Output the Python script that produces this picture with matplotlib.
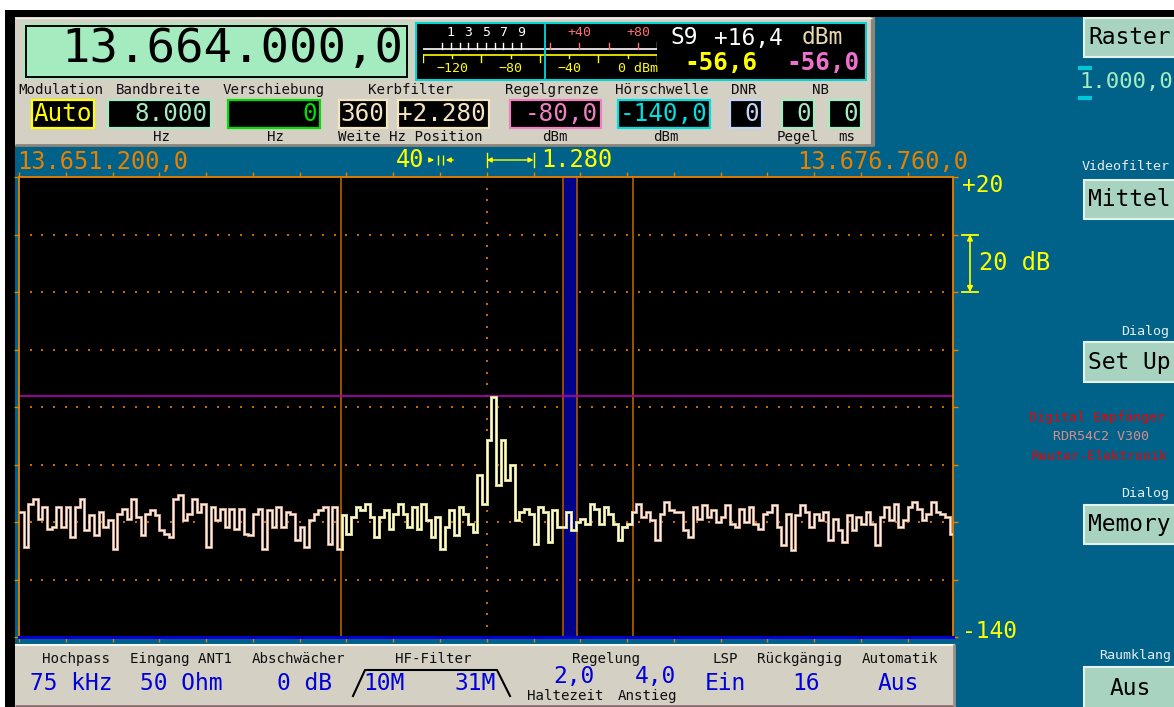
import numpy as np
import matplotlib
matplotlib.use("Agg")
import matplotlib.pyplot as plt
from matplotlib.patches import Rectangle
from matplotlib import transforms

# ---------------- receiver state ----------------
center_freq_hz = 13664000.0
span_start_hz = 13651200.0
span_stop_hz = 13676760.0
division_hz = 1280
resolution_hz = 40
level_top_dbm = 20
level_bottom_dbm = -140
level_div_db = 20

modulation = "Auto"
bandwidth_hz = 8000
shift_hz = 0
notch_width_hz = 360
notch_offset_hz = 2280
agc_limit_dbm = -80.0
squelch_dbm = -140.0
dnr_value = 0
nb_level = 0
nb_ms = 0

signal_dbm = -56.6
s_unit_label = "S9"
over_s9_db = 16.4
marker_dbm = -56.0
tuning_step_hz = 1000.0

highpass_label = "75 kHz"
input_label = "50 Ohm"
attenuator_label = "0 dB"
hf_filter_low = "10M"
hf_filter_high = "31M"
agc_hold_s = 2.0
agc_attack_s = 4.0
speaker_label = "Ein"
undo_count = 16
auto_label = "Aus"

# spectrum trace, one level per 128 Hz bin starting at span_start_hz
trace_bin_hz = 128
trace_dbm = [
    -96.5, -108.7, -93.6, -91.9, -98.8, -94.8, -102.3, -101.7, -94.8, -101.7,
    -94.8, -105.2, -94.8, -91.9, -102.9, -97.7, -104.6, -96.5, -101.7, -99.4,
    -109.3, -97.1, -95.4, -98.8, -91.9, -98.3, -104.6, -97.1, -95.9, -97.7,
    -102.9, -104.1, -105.2, -91.9, -90.7, -99.4, -97.1, -91.9, -96.5, -93.6,
    -108.7, -94.8, -99.4, -95.4, -101.7, -95.4, -102.3, -95.4, -104.1, -104.6,
    -97.1, -95.4, -109.3, -95.9, -101.7, -94.8, -101.7, -96.5, -97.1, -106.4,
    -101.7, -108.7, -99.4, -97.1, -95.9, -94.8, -107.5, -94.8, -109.3, -97.7,
    -104.1, -98.3, -94.8, -95.9, -93.6, -98.3, -105.2, -98.3, -95.9, -102.3,
    -97.1, -93.6, -97.1, -101.7, -94.8, -102.3, -93.6, -99.4, -105.2, -98.3,
    -109.3, -101.7, -95.9, -104.6, -94.8, -97.1, -100.6, -103.5, -83.8, -93.6,
    -71.6, -56.6, -87.2, -71.6, -85.5, -80.3, -99.4, -96.5, -95.4, -97.1,
    -107.5, -94.8, -96.5, -107.0, -95.9, -101.7, -101.7, -96.5, -102.9, -100.0,
    -98.8, -100.6, -93.6, -95.4, -100.6, -94.8, -97.1, -100.6, -106.4, -101.7,
    -100.6, -96.5, -93.6, -98.3, -96.5, -99.4, -106.4, -97.1, -93.0, -95.9,
    -96.5, -96.5, -102.9, -105.2, -94.8, -98.8, -94.2, -98.3, -95.9, -100.0,
    -98.3, -94.2, -100.6, -101.7, -95.4, -100.0, -94.8, -100.6, -102.3, -97.1,
    -96.5, -94.2, -101.7, -108.1, -97.1, -109.9, -97.7, -94.2, -96.5, -101.7,
    -97.1, -99.4, -96.5, -106.4, -98.8, -102.9, -107.0, -97.7, -102.9, -98.3,
    -100.6, -96.5, -100.6, -108.1, -98.3, -94.8, -99.4, -93.6, -101.7, -99.4,
    -94.8, -93.0, -95.4, -99.4, -97.1, -93.0, -96.5, -97.1, -98.3, -104.1,
]

# S-meter scale: S9 = -73 dBm, 6 dB per S unit
s9_dbm = -73.0
s_unit_db = 6.0
meter_min_dbm = -140
meter_max_dbm = 20


# ---------------- number formatting ----------------
def de_num(value, decimals=0, sign=False):
    s = f"{value:{'+' if sign else ''},.{decimals}f}"
    return s.replace(",", "_").replace(".", ",").replace("_", ".")


# ---------------- colours / fonts ----------------
TEAL = "#006189"
PANEL = "#d4d0c4"
MINT = "#a4ecc0"
ORANGE = "#e88000"
DARK_ORANGE = "#a85a00"
YELLOW = "#ffff00"
BUTTON = "#a9d3c1"
MONO = "DejaVu Sans Mono"

W, H = 1174, 707
fig = plt.figure(figsize=(W / 100, H / 100), dpi=100)
fig.patch.set_facecolor(TEAL)

ax0 = fig.add_axes([0, 0, 1, 1])
ax0.set_xlim(0, W)
ax0.set_ylim(H, 0)
ax0.axis("off")
ax0.set_zorder(0)


def rect(x0, y0, x1, y1, fc, ec="none", lw=0.0, z=1):
    ax0.add_patch(Rectangle((x0, y0), x1 - x0, y1 - y0, facecolor=fc,
                            edgecolor=ec, linewidth=lw, zorder=z))


def hline(x0, x1, y, color, lw=1.0, z=2):
    ax0.plot([x0, x1], [y, y], color=color, lw=lw, zorder=z, solid_capstyle="butt")


def vline(x, y0, y1, color, lw=1.0, z=2):
    ax0.plot([x, x], [y0, y1], color=color, lw=lw, zorder=z, solid_capstyle="butt")


def txt(x, y, s, size, color, ha="left", weight="normal", z=5, ax=None):
    (ax or ax0).text(x, y, s, fontsize=size, color=color, ha=ha, va="center",
                     family=MONO, fontweight=weight, zorder=z)


def px_axes(x0, y0, x1, y1):
    return fig.add_axes([x0 / W, 1 - y1 / H, (x1 - x0) / W, (y1 - y0) / H])


# ---------------- frame ----------------
rect(0, 0, W, 10, "white")
rect(0, 10, W, 17, "black")
rect(0, 0, 5, H, "white")
rect(5, 10, 15, H, "black")

# ---------------- top control panel ----------------
rect(15, 17, 875, 146, PANEL)
hline(15, 874, 145, "#8c8478", lw=2)
vline(873, 17, 146, "#8c8478", lw=3)
hline(15, 872, 18, "#f2f0e8", lw=1)

# frequency readout
rect(23, 23, 409, 79, MINT)
rect(25.5, 25.5, 406.5, 76.5, "none", ec="black", lw=1.4, z=2)
txt(403, 50, de_num(center_freq_hz, 1), 34, "black", ha="right")

# S-meter window
rect(416, 23, 866, 80, "black", ec="#00d4d4", lw=1.5)
txt(671, 38, s_unit_label, 16.5, "white")
txt(714, 38, de_num(over_s9_db, 1, sign=True), 16.5, "white")
txt(802, 38, "dBm", 16.5, "#e8d8b0")
txt(757, 63, de_num(signal_dbm, 1), 17.5, YELLOW, ha="right", weight="bold")
txt(859, 63, de_num(marker_dbm, 1), 17.5, "#f070d0", ha="right", weight="bold")

meter = px_axes(423, 23, 657, 80)
meter.set_xlim(meter_min_dbm, meter_max_dbm)
meter.set_ylim(80 - 23, 0)
meter.axis("off")
meter.patch.set_alpha(0)
# upper (S-unit) scale
meter.plot([meter_min_dbm, meter_max_dbm], [26, 26], color="white", lw=1.2)
s_ticks = [s9_dbm + s_unit_db * k for k in range(-9, 1)]
for v in s_ticks:
    meter.plot([v, v], [20, 26], color="white", lw=1)
for k in (1, 3, 5, 7, 9):
    meter.text(s9_dbm + s_unit_db * (k - 9), 10, str(k), color="white",
               fontsize=9.5, ha="center", va="center", family=MONO)
for over in (20, 40, 60, 80):
    meter.plot([s9_dbm + over] * 2, [20, 26], color="#ff7070", lw=1)
for over in (40, 80):
    meter.text(s9_dbm + over, 10, f"+{over}", color="#ff7070",
               fontsize=9.5, ha="center", va="center", family=MONO)
meter.plot([meter_max_dbm] * 2, [19, 26], color="white", lw=1)
# lower (dBm) scale
meter.plot([meter_min_dbm, meter_max_dbm], [32, 32], color=YELLOW, lw=1.2)
for v in range(meter_min_dbm, meter_max_dbm + 1, 40):
    meter.plot([v, v], [32, 39], color=YELLOW, lw=1)
for v in range(meter_min_dbm + 20, meter_max_dbm, 40):
    meter.plot([v, v], [32, 35], color=YELLOW, lw=1)
for v in (-120, -80, -40):
    meter.text(v, 45, str(v).replace("-", "\u2212"), color=YELLOW, fontsize=9.5,
               ha="center", va="center", family=MONO)
meter.text(0, 45, "0 dBm", color=YELLOW, fontsize=9.5, ha="left", va="center",
           family=MONO, transform=meter.transData + transforms.ScaledTranslation(-7 / 72, 0, fig.dpi_scale_trans))
meter.plot([signal_dbm, signal_dbm], [2, 55], color="#00d8e0", lw=1.3)

# control labels
LBL = 10.2
for x, s in [(18, "Modulation"), (116, "Bandbreite"), (223, "Verschiebung"),
             (368, "Kerbfilter"), (505, "Regelgrenze"), (615, "Hörschwelle"),
             (731, "DNR"), (812, "NB")]:
    txt(x, 90, s, LBL, "#101010")
for x, s in [(153, "Hz"), (267, "Hz"), (338, "Weite Hz Position"), (542, "dBm"),
             (653, "dBm"), (777, "Pegel"), (838, "ms")]:
    txt(x, 137, s, LBL, "#101010")


def value_box(x0, x1, text, color, ha="right"):
    rect(x0, 100, x1, 128, "black", ec=color, lw=1.6, z=2)
    if ha == "right":
        txt(x1 - 3, 114, text, 17.5, color, ha="right")
    else:
        txt(x0 + 2, 114, text, 17.5, color, ha="left")


value_box(32, 94, modulation, YELLOW, ha="left")
value_box(108, 211, de_num(bandwidth_hz), MINT)
value_box(228, 320, de_num(shift_hz), "#00e000")
value_box(339, 387, de_num(notch_width_hz), "#f4e4c0")
value_box(398, 489, de_num(notch_offset_hz, sign=True), "#f4e4c0")
value_box(510, 601, de_num(agc_limit_dbm, 1), "#f080c0")
value_box(618, 710, de_num(squelch_dbm, 1), "#00e0e0")
value_box(730, 762, str(dnr_value), "#c4d4f4")
value_box(782, 814, str(nb_level), MINT)
value_box(829, 861, str(nb_ms), MINT)

# ---------------- spectrum display ----------------
SPEC_X0, SPEC_X1, SPEC_Y0, SPEC_Y1 = 19, 953, 177, 637
spec = px_axes(SPEC_X0, SPEC_Y0, SPEC_X1, SPEC_Y1)
spec.set_facecolor("black")
spec.set_xlim(span_start_hz, span_stop_hz)
spec.set_ylim(level_bottom_dbm, level_top_dbm)
for side in ("left", "right", "top", "bottom"):
    spec.spines[side].set_color(ORANGE)
    spec.spines[side].set_linewidth(1.3)
spec.set_xticks(np.arange(span_start_hz, span_stop_hz, division_hz))
spec.set_yticks(np.arange(level_bottom_dbm, level_top_dbm + 1, level_div_db))
spec.tick_params(axis="x", which="both", direction="out", length=3.8, width=1,
                 color=ORANGE, top=True, bottom=True, labelbottom=False, labeltop=False)
spec.tick_params(axis="y", which="both", direction="out", length=3.6, width=1,
                 color=ORANGE, left=True, right=True, labelleft=False, labelright=False)

# dotted graticule
dot_x = np.arange(span_start_hz, span_stop_hz, division_hz / 4)
for lev in range(level_bottom_dbm + level_div_db, level_top_dbm, level_div_db):
    spec.scatter(dot_x, np.full_like(dot_x, lev), s=1.6, marker="s", color="#c86800",
                 linewidths=0, zorder=1)
dot_y = np.arange(level_bottom_dbm + 4, level_top_dbm, 4)
spec.scatter(np.full_like(dot_y, center_freq_hz, dtype=float), dot_y, s=1.6, marker="s",
             color="#c86800", linewidths=0, zorder=1)

# notch filter
n_lo = center_freq_hz + notch_offset_hz - notch_width_hz / 2
n_hi = center_freq_hz + notch_offset_hz + notch_width_hz / 2
spec.axvspan(n_lo, n_hi, color="#00008a", zorder=2, lw=0)
spec.axvline(n_lo, color=DARK_ORANGE, lw=1.2, zorder=2.1)
spec.axvline(n_hi, color=DARK_ORANGE, lw=1.2, zorder=2.1)

# receive bandwidth
bw_lo = center_freq_hz - bandwidth_hz / 2
bw_hi = center_freq_hz + bandwidth_hz / 2
spec.axvline(bw_lo, color=DARK_ORANGE, lw=1.3, zorder=2)
spec.axvline(bw_hi, color=DARK_ORANGE, lw=1.3, zorder=2)

# level marker and squelch threshold
spec.axhline(marker_dbm, color="#a800a8", lw=1.3, zorder=2.5)
spec.axhline(squelch_dbm, color="#0000d0", lw=2.2, zorder=6, clip_on=False)

# trace
edges = span_start_hz + trace_bin_hz * np.arange(len(trace_dbm) + 1)
outer = spec.stairs(trace_dbm, edges, baseline=None, color="#e8b8a0", lw=2.0, zorder=4)
inner = spec.stairs(trace_dbm, edges, baseline=None, color="#fff0e4", lw=0.8, zorder=4.1)
pass_clip = Rectangle((bw_lo, level_bottom_dbm), bw_hi - bw_lo,
                      level_top_dbm - level_bottom_dbm, transform=spec.transData)
outer_y = spec.stairs(trace_dbm, edges, baseline=None, color="#d8d890", lw=2.0, zorder=4.2)
inner_y = spec.stairs(trace_dbm, edges, baseline=None, color="#ffffd8", lw=0.8, zorder=4.3)
outer_y.set_clip_path(pass_clip)
inner_y.set_clip_path(pass_clip)

# frequency captions above the display
FREQ_SIZE = 17
txt(17, 162, de_num(span_start_hz, 1), FREQ_SIZE, ORANGE)
txt(968, 162, de_num(span_stop_hz, 1), FREQ_SIZE, ORANGE, ha="right")
txt(396, 160, str(resolution_hz), FREQ_SIZE, YELLOW)
ax0.annotate("", xy=(437, 160), xytext=(426, 160),
             arrowprops=dict(arrowstyle="-|>", color=YELLOW, lw=1, mutation_scale=7), zorder=5)
ax0.annotate("", xy=(443, 160), xytext=(456, 160),
             arrowprops=dict(arrowstyle="-|>", color=YELLOW, lw=1, mutation_scale=7), zorder=5)
vline(437.5, 155, 165, YELLOW, lw=1)
vline(442.5, 155, 165, YELLOW, lw=1)

mix = transforms.blended_transform_factory(spec.transData, ax0.transData)
for f in (center_freq_hz, center_freq_hz + division_hz):
    ax0.plot([f, f], [153, 167], color=YELLOW, lw=1, transform=mix, zorder=5)
ax0.annotate("", xy=(center_freq_hz, 160), xytext=(center_freq_hz + division_hz, 160),
             xycoords=mix, textcoords=mix,
             arrowprops=dict(arrowstyle="<|-|>", color=YELLOW, lw=1, mutation_scale=7,
                             shrinkA=0, shrinkB=0), zorder=5)
txt(541, 160, de_num(division_hz), FREQ_SIZE, YELLOW)

# level captions on the right
txt(962, 186, f"+{level_top_dbm}", 16.5, YELLOW)
txt(962, 632, str(level_bottom_dbm), 16.5, YELLOW)
lev_mix = transforms.blended_transform_factory(ax0.transData, spec.transData)
ax0.annotate("", xy=(970, 0), xytext=(970, -level_div_db), xycoords=lev_mix, textcoords=lev_mix,
             arrowprops=dict(arrowstyle="<|-|>", color=YELLOW, lw=1.2, mutation_scale=8,
                             shrinkA=0, shrinkB=0), zorder=5)
for lev in (0, -level_div_db):
    ax0.plot([962, 978], [lev, lev], color=YELLOW, lw=1.3, transform=lev_mix, zorder=5)
ax0.text(979, -level_div_db / 2, f"{level_div_db} dB", transform=lev_mix, fontsize=17,
         color=YELLOW, va="center", ha="left", family=MONO, zorder=5)

# ---------------- bottom panel ----------------
rect(15, 644, 955, 707, PANEL)
hline(15, 955, 645, "#f8f8f0", lw=1.5)
hline(15, 955, 705.5, "#8a6e6e", lw=2)
vline(954, 644, 707, "#9a9088", lw=2)
for x, s in [(42, "Hochpass"), (130, "Eingang ANT1"), (252, "Abschwächer"), (395, "HF-Filter"),
             (572, "Regelung"), (713, "LSP"), (757, "Rückgängig"), (862, "Automatik")]:
    txt(x, 659, s, LBL, "#101010")
BLUE = "#0000d8"
VAL = 16.5
txt(30, 684, highpass_label, VAL, BLUE)
txt(140, 684, input_label, VAL, BLUE)
txt(332, 684, attenuator_label, VAL, BLUE, ha="right")
txt(363, 684, hf_filter_low, VAL, BLUE)
txt(496, 684, hf_filter_high, VAL, BLUE, ha="right")
ax0.plot([353, 365, 497, 510], [696, 670, 670, 696], color="black", lw=1.5, zorder=3)
txt(553, 677, de_num(agc_hold_s, 1), VAL, BLUE)
txt(635, 677, de_num(agc_attack_s, 1), VAL, BLUE)
txt(527, 696, "Haltezeit", LBL, "#101010")
txt(618, 696, "Anstieg", LBL, "#101010")
txt(705, 684, speaker_label, VAL, BLUE)
txt(792, 684, str(undo_count), VAL, BLUE)
txt(878, 684, auto_label, VAL, BLUE)

# ---------------- right-hand column ----------------
SIDE = 9.6


def button(y0, y1, text, tx=1088):
    rect(1084, y0, 1190, y1, BUTTON, ec="#e4f2ea", lw=1.5, z=2)
    txt(tx, (y0 + y1) / 2, text, 16.5, "black")


button(18, 57, "Raster")
txt(1079, 82, de_num(tuning_step_hz, 1), 16, MINT)
hline(1078, 1092, 68, "#00c8d8", lw=3)
hline(1078, 1092, 98, "#00c8d8", lw=3)
txt(1082, 167, "Videofilter", SIDE, "#e4ecee")
button(180, 219, "Mittel")
txt(1121, 332, "Dialog", SIDE, "#e4ecee")
button(342, 382, "Set Up")
txt(1029, 417, "Digital Empfänger", SIDE, "#f00000")
txt(1053, 437, "RDR54C2 V300", SIDE, "#d88c8c")
txt(1031, 457, "Reuter-Elektronik", SIDE, "#f00000")
txt(1121, 493, "Dialog", SIDE, "#e4ecee")
button(505, 544, "Memory")
txt(1099, 655, "Raumklang", SIDE, "#e4ecee")
button(667, 710, "Aus", tx=1110)

fig.savefig("out.png", dpi=100, facecolor=fig.get_facecolor())
